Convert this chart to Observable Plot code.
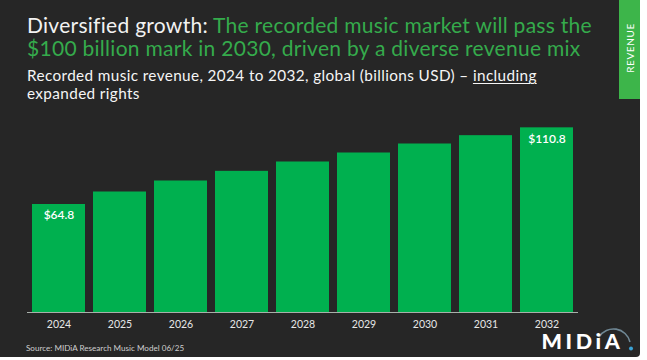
<!DOCTYPE html>
<html>
<head>
<meta charset="utf-8">
<script src="https://cdn.jsdelivr.net/npm/d3@7"></script>
<script src="https://cdn.jsdelivr.net/npm/@observablehq/plot@0.6"></script>
<style>
  html, body { margin: 0; padding: 0; background: #ffffff; }
  #panel { position: relative; width: 640px; height: 357px; background: #262626; overflow: hidden; font-family: Lato, "Open Sans", sans-serif; border-radius: 0 0 4px 0; }
  .tl { position: absolute; left: 27px; font-size: 21px; line-height: 21px; color: #f2f2f2; white-space: nowrap; letter-spacing: 0.28px; }
  .g { color: #35ab4c; }
  .sl { position: absolute; left: 27px; font-size: 15.3px; line-height: 15.3px; color: #f5f5f5; white-space: nowrap; letter-spacing: 0.38px; }
  .sl u { text-underline-offset: 2px; }
  #tab { position: absolute; left: 619px; top: 0; width: 21px; height: 99px; background: #3db54a; }
  #tab span { position: absolute; left: 50%; top: 48px; transform: translate(-50%, -50%) rotate(-90deg); color: #ffffff; font-size: 10px; letter-spacing: 0.6px; white-space: nowrap; }
  #chart { position: absolute; left: 0; top: 100px; }
  #source { position: absolute; left: 26px; top: 343px; font-size: 8.1px; color: #cfcfcf; white-space: nowrap; }
  #logo { position: absolute; left: 536px; top: 320px; }
</style>
</head>
<body>
<div id="panel">
  <div class="tl" style="top:14px">Diversified growth: <span class="g">The recorded music market will pass the</span></div>
  <div class="tl g" style="top:36.5px">$100 billion mark in 2030, driven by a diverse revenue mix</div>
  <div class="sl" style="top:68.2px">Recorded music revenue, 2024 to 2032, global (billions USD) – <u>including</u></div>
  <div class="sl" style="top:86px">expanded rights</div>
  <div id="tab"><span>REVENUE</span></div>
  <div id="chart"></div>
  <div id="source">Source: MIDiA Research Music Model 06/25</div>
  <svg id="logo" width="104" height="38" viewBox="0 0 104 38">
    <path d="M 63 17 A 17 17 0 0 1 94 22" fill="none" stroke="#6f8794" stroke-width="1.6"/>
    <circle cx="95" cy="28.5" r="2" fill="#3aa3d6"/>
    <text x="5.5" y="29" fill="#ffffff" font-family="Lato, sans-serif" font-weight="900" font-size="21.5" letter-spacing="3.6">MIDiA</text>
  </svg>
</div>
<script>
const years = ["2024", "2025", "2026", "2027", "2028", "2029", "2030", "2031", "2032"];
const revenue = [64.8, 72.3, 78.9, 84.7, 90.3, 95.7, 101.1, 106.1, 110.8];
const valueLabels = ["$64.8", "", "", "", "", "", "", "", "$110.8"];

const data = years.map((y, i) => ({year: y, value: revenue[i], label: valueLabels[i]}));

const chart = Plot.plot({
  width: 640,
  height: 257,
  marginLeft: 27,
  marginRight: 62,
  marginTop: 12,
  marginBottom: 45,
  style: {background: "transparent", fontFamily: "Lato, sans-serif"},
  x: {domain: years, paddingInner: 0.13, paddingOuter: 0.065, label: null, tickSize: 0, tickPadding: 9},
  y: {domain: [0, 120], axis: null},
  marks: [
    Plot.barY(data, {x: "year", y: "value", fill: "#00b04f"}),
    Plot.ruleY([0], {stroke: "#a8b0aa", strokeWidth: 1.2}),
    Plot.text(data.filter(d => d.label), {x: "year", y: "value", text: "label", dy: 11, fill: "#ffffff", fontSize: 12, fontWeight: 600}),
    Plot.axisX({tickSize: 0, tickPadding: 8, fontSize: 10.5, color: "#e6e6e6", label: null})
  ]
});
document.getElementById("chart").appendChild(chart);
</script>
</body>
</html>
